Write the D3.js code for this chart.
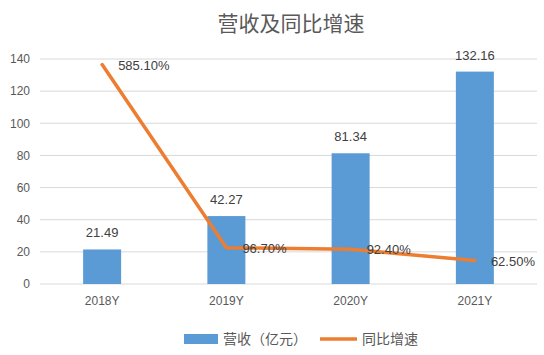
<!DOCTYPE html>
<html>
<head>
<meta charset="utf-8">
<script src="https://cdn.jsdelivr.net/npm/d3@7/dist/d3.min.js"></script>
<style>
  body { margin: 0; background: #fff; }
  svg text { font-family: "Liberation Sans", "Noto Sans CJK SC", sans-serif; }
</style>
</head>
<body>
<div id="chart"></div>
<script>
// data
const years = ['2018Y', '2019Y', '2020Y', '2021Y']
const revenue = [21.49, 42.27, 81.34, 132.16]
const growth = [585.10, 96.70, 92.40, 62.50]
const yTicks = [0, 20, 40, 60, 80, 100, 120, 140]

const width = 544, height = 355
const margin = {top: 59, right: 7, bottom: 71, left: 40}
const innerW = width - margin.left - margin.right
const innerH = height - margin.top - margin.bottom

const svg = d3.select('#chart').append('svg')
    .attr('width', width)
    .attr('height', height)

// title
svg.append('text')
    .attr('x', 291)
    .attr('y', 31)
    .attr('text-anchor', 'middle')
    .attr('fill', '#595959')
    .style('font-family', '"Noto Sans CJK SC", sans-serif')
    .style('font-size', '21px')
    .text('营收及同比增速')

const g = svg.append('g')
    .attr('transform', 'translate(' + margin.left + ',' + margin.top + ')')

const x = d3.scaleBand().domain(years).range([0, innerW])
const y = d3.scaleLinear().domain([0, 140]).range([innerH, 0])
// hidden secondary axis for growth rate
const y2 = d3.scaleLinear().domain([0, 600]).range([innerH, 0])

// gridlines
g.append('g')
    .selectAll('line').data(yTicks)
    .enter().append('line')
    .attr('x1', 0).attr('x2', innerW)
    .attr('y1', d => y(d)).attr('y2', d => y(d))
    .attr('stroke', '#d9d9d9')
    .attr('stroke-width', 1)

// y axis labels
const yAxis = g.append('g')
    .call(d3.axisLeft(y).tickValues(yTicks).tickSize(0).tickPadding(10))
yAxis.select('.domain').remove()
yAxis.selectAll('text')
    .attr('fill', '#595959')
    .style('font-size', '12px')

// x axis labels
const xAxis = g.append('g')
    .attr('transform', 'translate(0,' + innerH + ')')
    .call(d3.axisBottom(x).tickSize(0).tickPadding(12))
xAxis.select('.domain').remove()
xAxis.selectAll('text')
    .attr('fill', '#595959')
    .style('font-size', '12px')

// bars
const barW = 38
g.selectAll('.bar').data(revenue)
    .enter().append('rect')
    .attr('class', 'bar')
    .attr('x', (d, i) => x(years[i]) + x.bandwidth() / 2 - barW / 2)
    .attr('y', d => y(d))
    .attr('width', barW)
    .attr('height', d => innerH - y(d))
    .attr('fill', '#5B9BD5')

g.selectAll('.barlabel').data(revenue)
    .enter().append('text')
    .attr('class', 'barlabel')
    .attr('x', (d, i) => x(years[i]) + x.bandwidth() / 2)
    .attr('y', d => y(d) - 12)
    .attr('text-anchor', 'middle')
    .attr('fill', '#404040')
    .style('font-size', '13px')
    .text(d => d.toFixed(2))

// growth line
const line = d3.line()
    .x((d, i) => x(years[i]) + x.bandwidth() / 2)
    .y(d => y2(d))

g.append('path')
    .datum(growth)
    .attr('d', line)
    .attr('fill', 'none')
    .attr('stroke', '#ED7D31')
    .attr('stroke-width', 3.5)
    .attr('stroke-linecap', 'round')
    .attr('stroke-linejoin', 'round')

g.selectAll('.linelabel').data(growth)
    .enter().append('text')
    .attr('class', 'linelabel')
    .attr('x', (d, i) => x(years[i]) + x.bandwidth() / 2 + 16)
    .attr('y', d => y2(d) + 5)
    .attr('fill', '#404040')
    .style('font-size', '13px')
    .text(d => d.toFixed(2) + '%')

// legend
const legend = svg.append('g').attr('transform', 'translate(0,339)')
legend.append('rect')
    .attr('x', 184).attr('y', -5)
    .attr('width', 34).attr('height', 10)
    .attr('fill', '#5B9BD5')
legend.append('text')
    .attr('x', 223).attr('y', 5)
    .attr('fill', '#595959')
    .style('font-family', '"Noto Sans CJK SC", sans-serif')
    .style('font-size', '14px')
    .text('营收（亿元）')
legend.append('line')
    .attr('x1', 320).attr('x2', 357)
    .attr('y1', 0).attr('y2', 0)
    .attr('stroke', '#ED7D31')
    .attr('stroke-width', 3.5)
legend.append('text')
    .attr('x', 362).attr('y', 5)
    .attr('fill', '#595959')
    .style('font-family', '"Noto Sans CJK SC", sans-serif')
    .style('font-size', '14px')
    .text('同比增速')
</script>
</body>
</html>
